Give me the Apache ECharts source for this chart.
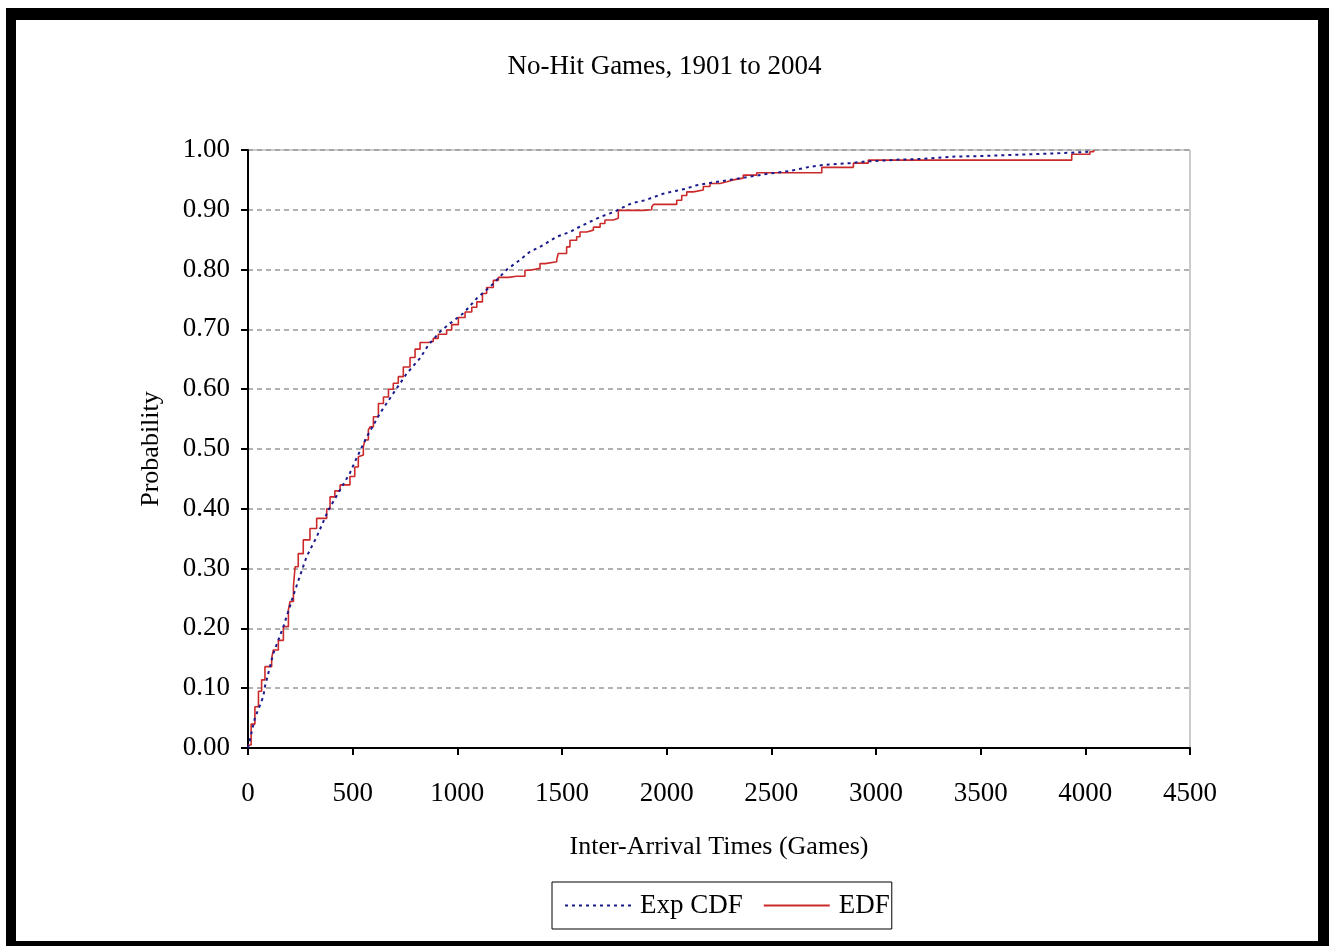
<!DOCTYPE html>
<html>
<head>
<meta charset="utf-8">
<title>No-Hit Games</title>
<script src="https://cdn.jsdelivr.net/npm/echarts@6/dist/echarts.min.js"></script>
<style>
    body { margin: 0; background: #fff; }
    #main { width: 1329px; height: 946px; }
    #frame {
        position: absolute; left: 6px; top: 8px; width: 1323px; height: 938px;
        box-sizing: border-box; pointer-events: none;
        border-left: 10px solid #000; border-top: 12px solid #000;
        border-right: 11px solid #000; border-bottom: 5px solid #000;
    }
</style>
</head>
<body>
<div id="main"></div>
<div id="frame"></div>
<script>
var edfTimes = [0, 15, 33, 50, 65, 81, 113, 121, 145, 169, 193, 201, 217, 225, 240, 264, 296, 328, 360, 376,
    392, 415, 440, 487, 510, 527, 535, 551, 559, 575, 583, 599, 623, 647, 671, 694, 718, 742, 774, 798,
    822, 862, 885, 909, 949, 973, 1005, 1037, 1069, 1093, 1120, 1140, 1172, 1196, 1244, 1283, 1323, 1347, 1395, 1419,
    1475, 1482, 1522, 1538, 1570, 1586, 1618, 1650, 1682, 1705, 1745, 1769, 1889, 1929, 1937, 2032, 2048, 2072, 2096, 2127,
    2175, 2207, 2255, 2287, 2318, 2366, 2430, 2741, 2892, 2963, 3935, 4022, 4040];
var edfProb = [0.005, 0.04, 0.069, 0.095, 0.114, 0.136, 0.15, 0.164, 0.18, 0.203, 0.231, 0.245, 0.27, 0.303, 0.325, 0.348, 0.367, 0.384, 0.384, 0.40,
    0.42, 0.43, 0.44, 0.454, 0.47, 0.487, 0.49, 0.504, 0.515, 0.532, 0.537, 0.554, 0.576, 0.587, 0.60, 0.61, 0.621, 0.637, 0.653, 0.667,
    0.678, 0.68, 0.685, 0.692, 0.699, 0.708, 0.72, 0.729, 0.737, 0.746, 0.76, 0.77, 0.782, 0.787, 0.789, 0.789, 0.799, 0.802, 0.81, 0.813,
    0.817, 0.827, 0.838, 0.849, 0.855, 0.863, 0.866, 0.871, 0.877, 0.883, 0.886, 0.899, 0.90, 0.905, 0.909, 0.909, 0.916, 0.924, 0.93, 0.933,
    0.939, 0.944, 0.947, 0.95, 0.953, 0.958, 0.962, 0.971, 0.978, 0.983, 0.993, 0.997, 1.0];

// fitted exponential cdf
var expTimes = [0, 33, 73, 81, 121, 169, 225, 280, 328, 384, 487, 519, 567, 631, 694, 758, 822, 862, 917, 965,
    1029, 1093, 1156, 1236, 1299, 1347, 1395, 1475, 1538, 1586, 1634, 1682, 1745, 1833, 1897, 1984, 2048, 2088, 2143, 2207,
    2318, 2478, 2589, 2685, 2749, 2876, 2956, 3019, 3115, 3218, 3377, 3513, 3672, 3831, 4022];
var expProb = [0, 0.05, 0.086, 0.103, 0.158, 0.203, 0.264, 0.32, 0.353, 0.398, 0.46, 0.485, 0.52, 0.56, 0.593, 0.626, 0.652, 0.674, 0.696, 0.71,
    0.727, 0.752, 0.771, 0.80, 0.816, 0.83, 0.838, 0.855, 0.863, 0.872, 0.88, 0.888, 0.896, 0.911, 0.916, 0.927, 0.932, 0.935, 0.941, 0.945,
    0.951, 0.96, 0.965, 0.972, 0.975, 0.978, 0.981, 0.982, 0.984, 0.985, 0.989, 0.99, 0.992, 0.994, 0.997];

function pairs(xs, ys) {
    var out = [];
    for (var i = 0; i < xs.length; i++) out.push([xs[i], ys[i]]);
    return out;
}

var font = 'Liberation Serif';
var chart = echarts.init(document.getElementById('main'));
var option = {
    backgroundColor: '#fff',
    animation: false,
    title: {
        text: 'No-Hit Games, 1901 to 2004',
        left: 'center',
        top: 48,
        textStyle: { fontFamily: font, fontSize: 27, fontWeight: 'normal', color: '#000' }
    },
    grid: {
        left: 248, top: 150, right: 139, bottom: 198,
        show: true, borderColor: '#999', borderWidth: 1
    },
    legend: {
        left: 552, top: 882,
        padding: [10, 2, 10, 12],
        borderColor: '#000', borderWidth: 1,
        itemWidth: 66, itemHeight: 14, itemGap: 20,
        itemStyle: { opacity: 0 },
        textStyle: { fontFamily: font, fontSize: 27, color: '#000', padding: [0, 0, 0, 4] },
        data: ['Exp CDF', 'EDF']
    },
    xAxis: {
        type: 'value', min: 0, max: 4500, interval: 500,
        name: 'Inter-Arrival Times (Games)', nameLocation: 'middle', nameGap: 86,
        nameTextStyle: { fontFamily: font, fontSize: 26, color: '#000' },
        axisLine: { lineStyle: { color: '#000', width: 2 } },
        axisTick: { length: 7, lineStyle: { color: '#000', width: 2 } },
        axisLabel: {
            margin: 32, fontFamily: font, fontSize: 27, color: '#000',
            formatter: function(v) { return String(v); }
        },
        splitLine: { show: false }
    },
    yAxis: {
        type: 'value', min: 0, max: 1, interval: 0.1,
        name: 'Probability', nameLocation: 'middle', nameGap: 84,
        nameTextStyle: { fontFamily: font, fontSize: 26, color: '#000' },
        axisLine: { show: true, lineStyle: { color: '#000', width: 2 } },
        axisTick: { show: true, length: 7, lineStyle: { color: '#000', width: 2 } },
        axisLabel: {
            margin: 18, fontFamily: font, fontSize: 27, color: '#000',
            formatter: function(v) { return v.toFixed(2); }
        },
        splitLine: { lineStyle: { color: '#999', width: 1.5, type: [5, 4] } }
    },
    series: [{
        name: 'Exp CDF',
        type: 'line',
        symbol: 'none',
        data: pairs(expTimes, expProb),
        lineStyle: { color: '#1a1a8c', width: 2, type: [3, 4] },
        itemStyle: { color: '#1a1a8c' },
        z: 3
    }, {
        name: 'EDF',
        type: 'line',
        step: 'end',
        symbol: 'none',
        data: pairs(edfTimes, edfProb),
        lineStyle: { color: '#cc2a2a', width: 1.6 },
        itemStyle: { color: '#cc2a2a' },
        z: 2
    }]
};
chart.setOption(option);
</script>
</body>
</html>
